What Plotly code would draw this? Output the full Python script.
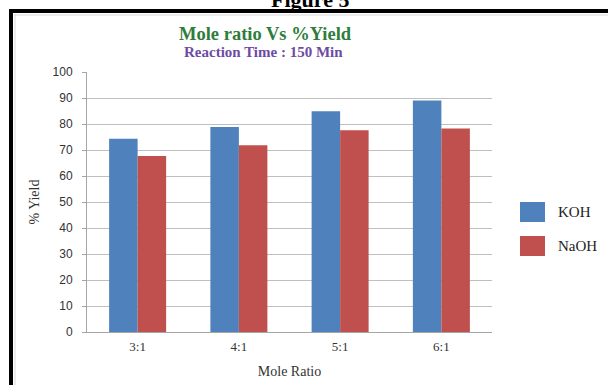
import plotly.graph_objects as go

# Data
ratios = ["3:1", "4:1", "5:1", "6:1"]
koh_yield = [74.3, 78.8, 84.9, 89.0]
naoh_yield = [67.7, 71.8, 77.6, 78.3]
series_names = ["KOH", "NaOH"]
y_ticks = [0, 10, 20, 30, 40, 50, 60, 70, 80, 90, 100]

W, H = 608, 385
L, R, T, B = 87, 492, 72, 332  # plot area in pixels

BLUE = "#4F81BD"
RED = "#C0504D"
GRID = "#BFBFBF"
SERIF = "Liberation Serif, Times New Roman, serif"
SANS = "Liberation Sans, Arial, sans-serif"


def px(x):
    return (x - L) / (R - L)


def py(y):
    return (B - y) / (B - T)


fig = go.Figure()
fig.add_trace(go.Bar(x=ratios, y=koh_yield, name=series_names[0],
                     marker=dict(color=BLUE, line=dict(width=0)), showlegend=False))
fig.add_trace(go.Bar(x=ratios, y=naoh_yield, name=series_names[1],
                     marker=dict(color=RED, line=dict(width=0)), showlegend=False))

shapes = []
# Outer black frame (top and left edges)
shapes.append(dict(type="rect", xref="paper", yref="paper",
                   x0=px(9), x1=px(608), y0=py(13), y1=py(9),
                   fillcolor="black", line=dict(width=0), layer="above"))
shapes.append(dict(type="rect", xref="paper", yref="paper",
                   x0=px(9), x1=px(13), y0=py(385), y1=py(9),
                   fillcolor="black", line=dict(width=0), layer="above"))
# Faint inner border
shapes.append(dict(type="line", xref="paper", yref="paper",
                   x0=px(14), x1=px(608), y0=py(15), y1=py(15),
                   line=dict(color="#D9D9D9", width=1)))
shapes.append(dict(type="line", xref="paper", yref="paper",
                   x0=px(15), x1=px(15), y0=py(385), y1=py(14),
                   line=dict(color="#D9D9D9", width=1)))

# Legend swatches
legend_colors = [BLUE, RED]
legend_tops = [202, 236]
annotations = []
for name, col, top in zip(series_names, legend_colors, legend_tops):
    shapes.append(dict(type="rect", xref="paper", yref="paper",
                       x0=px(520), x1=px(545), y0=py(top + 20), y1=py(top),
                       fillcolor=col, line=dict(width=0)))
    annotations.append(dict(text=name, xref="paper", yref="paper",
                            x=px(556), y=py(top + 10), xanchor="left", yanchor="middle",
                            showarrow=False, font=dict(family=SERIF, size=15, color="#222222")))

# Headings
annotations.append(dict(text="<b>Figure 5</b>", xref="paper", yref="paper",
                        x=px(310), y=py(-1), xanchor="center", yanchor="middle",
                        showarrow=False, font=dict(family=SERIF, size=22, color="black")))
annotations.append(dict(text="<b>Mole ratio Vs %Yield</b>", xref="paper", yref="paper",
                        x=px(265), y=py(34), xanchor="center", yanchor="middle",
                        showarrow=False, font=dict(family=SERIF, size=18.5, color="#2F7D3C")))
annotations.append(dict(text="<b>Reaction Time : 150 Min</b>", xref="paper", yref="paper",
                        x=px(263), y=py(52), xanchor="center", yanchor="middle",
                        showarrow=False, font=dict(family=SERIF, size=15, color="#6E4BA3")))

fig.update_layout(
    width=W, height=H,
    margin=dict(l=L, r=W - R, t=T, b=H - B, pad=0, autoexpand=False),
    paper_bgcolor="white", plot_bgcolor="white",
    barmode="group", bargap=0.437, bargroupgap=0,
    shapes=shapes, annotations=annotations,
    xaxis=dict(
        showgrid=False, showline=True, linecolor="#A6A6A6", linewidth=1,
        ticks="", ticklabelstandoff=2, automargin=False,
        tickfont=dict(family=SERIF, size=13, color="#333333"),
        title=dict(text="Mole Ratio", font=dict(family=SERIF, size=14, color="#333333"), standoff=13),
    ),
    yaxis=dict(
        range=[0, 100], tickvals=y_ticks, showgrid=True, gridcolor=GRID, gridwidth=1,
        showline=True, linecolor="#A6A6A6", linewidth=1,
        ticks="outside", ticklen=4, tickcolor="#A6A6A6", ticklabelstandoff=7,
        automargin=False,
        tickfont=dict(family=SANS, size=12, color="#333333"),
        title=dict(text="% Yield", font=dict(family=SERIF, size=14, color="#333333"), standoff=9),
        zeroline=False,
    ),
)

fig.write_html("out.html")
